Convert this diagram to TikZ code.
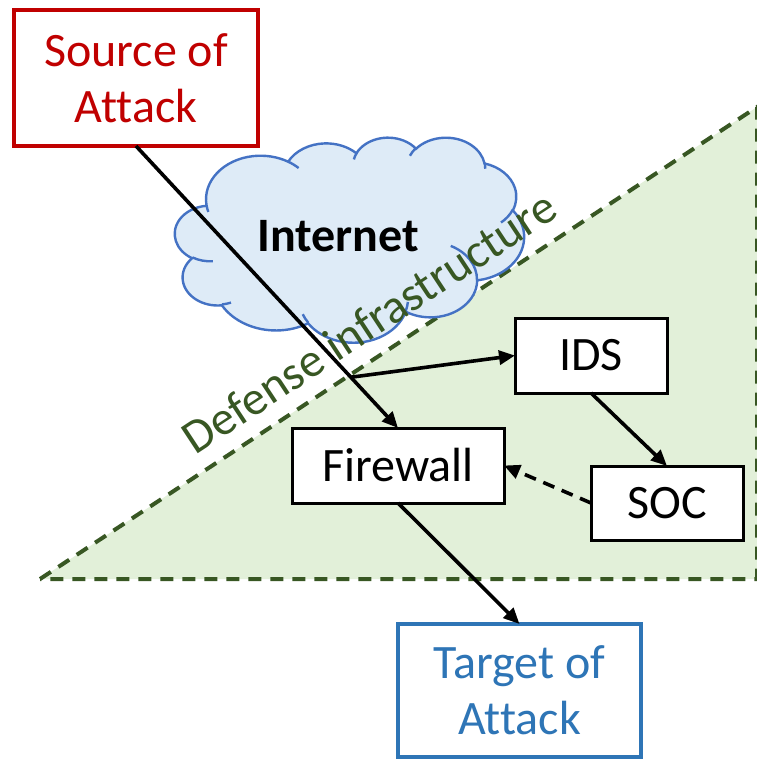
\documentclass[tikz,border=0pt]{standalone}
\usepackage{fontspec}
\setmainfont[Ligatures=NoCommon]{Carlito}
\usetikzlibrary{arrows.meta,calc}

\definecolor{srcred}{HTML}{C00000}
\definecolor{tgtblue}{HTML}{2E75B6}
\definecolor{defgreen}{HTML}{385723}
\definecolor{deffill}{HTML}{E2F0D9}
\definecolor{cloudfill}{HTML}{DEEBF7}
\definecolor{cloudline}{HTML}{4472C4}

\tikzset{
  every node/.style={font=\fontsize{48}{56}\selectfont, inner sep=0pt, outer sep=0pt},
  box/.style={draw=black, fill=white, line width=3pt, rectangle, align=center},
  endbox/.style={rectangle, fill=white, line width=3.8pt, align=center},
  flow/.style={line width=3.6pt, -{Triangle[length=16pt,width=14pt]}},
  feedback/.style={flow, dash pattern=on 12pt off 8pt},
  % one arc of the cloud outline: x radius, y radius, start and sweep angle
  % (angles measured from the ellipse centre, turned into parametric ones)
  cloudarc/.style n args={4}{insert path={
    arc[x radius=#1, y radius=#2,
        start angle={atan2(#1*sin(#3),#2*cos(#3))},
        delta angle={mod(atan2(#1*sin(#3+#4),#2*cos(#3+#4))-atan2(#1*sin(#3),#2*cos(#3))+720,360)}]}},
}

\begin{document}
\begin{tikzpicture}[x=1pt,y=-1pt]
\useasboundingbox (0,0) rectangle (756,759);

% defended zone
\path[fill=deffill, draw=defgreen, line width=4pt, dash pattern=on 13pt off 9pt]
  (40,579) -- (757,107) -- (757,579) -- cycle;

% the Internet cloud
\begin{scope}[shift={(175,137)}, x={(0.80787pt,0)}, y={(0,-0.47454pt)},
              line width=2.4pt, draw=cloudline]
  \path[fill=cloudfill, draw=cloudline] (39,143.7)
    [cloudarc={67.53}{91.90}{-190.4875}{123.7805}]
    [cloudarc={53.33}{72.67}{-144.1024}{89.9452}]
    [cloudarc={43.65}{59.45}{-145.8079}{99.7230}]
    [cloudarc={48.57}{65.95}{-130.9861}{117.2417}]
    [cloudarc={53.33}{72.73}{-78.7089}{109.0269}]
    [cloudarc={67.75}{92.20}{-46.2673}{130.2690}]
    [cloudarc={57.85}{78.67}{0.6250}{114.0333}]
    [cloudarc={67.52}{92.15}{22.4516}{115.1726}]
    [cloudarc={77.20}{105.43}{66.2426}{75.7110}]
    [cloudarc={43.60}{59.18}{-274.9421}{146.7356}]
    [cloudarc={43.45}{59.45}{-246.8285}{152.5189}]
    -- cycle;
  \path[draw=cloudline]
    (46.93,261.77) [cloudarc={43.45}{59.45}{86.7420}{26.4295}]
    (69.28,348.99) [cloudarc={43.60}{59.18}{73.6105}{11.4475}]
    (164.78,390.90) [cloudarc={67.52}{92.15}{137.6242}{14.0811}]
    (288.27,347.51) [cloudarc={67.52}{92.15}{6.4533}{15.9984}]
    (341.29,229.54) [cloudarc={57.85}{78.67}{-70.2924}{70.9174}]
    (417.98,153.54) [cloudarc={53.33}{72.73}{30.3180}{27.7515}]
    (383.24,54.26) [cloudarc={48.57}{65.95}{-13.7443}{14.8589}]
    (290.78,39.52) [cloudarc={48.57}{65.95}{-149.1815}{18.1954}]
    (221.41,47.20) [cloudarc={43.65}{59.45}{-163.4943}{17.6864}]
    (140.00,51.92) [cloudarc={67.53}{91.90}{-66.7070}{12.3194}]
    (41.27,157.89) [cloudarc={67.53}{91.90}{157.6544}{11.8582}];
\end{scope}
\node[font=\fontsize{48}{56}\selectfont\bfseries] (net) at (338,236) {Internet};

\node[text=defgreen, rotate=33.4] (zone) at (369,322) {Defense infrastructure};

% hosts and defences
\node[endbox, draw=srcred, text=srcred, minimum width=244pt, minimum height=136pt]
  (src) at (136,78) {Source of\\Attack};
\node[endbox, draw=tgtblue, text=tgtblue, minimum width=243pt, minimum height=133pt]
  (tgt) at (519.5,690.5) {Target of\\Attack};
\node[box, minimum width=212pt, minimum height=75pt] (fw) at (398,465.5) {Firewall};
\node[box, minimum width=152pt, minimum height=75pt] (ids) at (591,355.5) {IDS};
\node[box, minimum width=152pt, minimum height=74pt] (soc) at (667,503) {SOC};

% traffic and monitoring
\coordinate (tap) at ($(src.south)!0.82!(fw.north)$);
\draw[flow] (src.south) -- (fw.north);
\draw[flow] (tap) -- (ids.west);
\draw[flow] (ids.south) -- (soc.north);
\draw[feedback] (soc.west) -- (fw.east);
\draw[flow] (fw.south) -- (tgt.north);
\end{tikzpicture}
\end{document}
